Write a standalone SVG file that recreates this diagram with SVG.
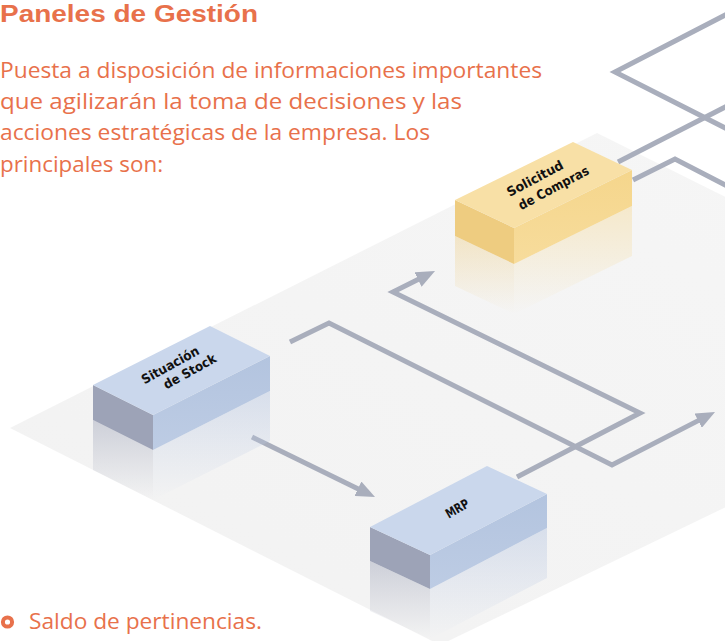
<svg xmlns="http://www.w3.org/2000/svg" width="725" height="641" viewBox="0 0 725 641">
  <defs>
    <style>
      .txt { font-family: "Open Sans", "Liberation Sans", sans-serif; fill: #E8714B; }
      .title { font-family: "Liberation Sans", "Open Sans", sans-serif; font-weight: bold; font-size: 23px; }
      .body { font-size: 22.5px; }
      .conn { fill: none; stroke: #A9AEBC; stroke-width: 5; stroke-linejoin: miter; }
      .lbl { font-family: "Liberation Sans Narrow", "DejaVu Sans Condensed", "Liberation Sans", sans-serif; font-weight: bold; font-size: 13px; fill: #111; text-anchor: middle; }
      .btop { fill: #CAD7EC; }
      .bleft { fill: #9DA3B7; }
      .bright { fill: url(#gBlueRight); }
      .ytop { fill: #F8E0A6; }
      .yleft { fill: #EECC80; }
      .yright { fill: url(#gYelRight); }
    </style>
    <linearGradient id="gPlane" x1="0" y1="1" x2="1" y2="0">
      <stop offset="0" stop-color="#F2F2F2"/>
      <stop offset="1" stop-color="#F6F6F6"/>
    </linearGradient>
    <linearGradient id="gBlueRight" x1="0" y1="0" x2="0" y2="1">
      <stop offset="0" stop-color="#B3C4DF"/>
      <stop offset="1" stop-color="#BDCCE4"/>
    </linearGradient>
    <linearGradient id="gYelRight" x1="0" y1="0" x2="0" y2="1">
      <stop offset="0" stop-color="#F5D68C"/>
      <stop offset="1" stop-color="#F7DC9C"/>
    </linearGradient>
    <linearGradient id="gReflBlueL" x1="0" y1="0" x2="0" y2="1">
      <stop offset="0" stop-color="#A7ACBE" stop-opacity="0.5"/>
      <stop offset="1" stop-color="#A7ACBE" stop-opacity="0"/>
    </linearGradient>
    <linearGradient id="gReflBlueR" x1="0" y1="0" x2="0" y2="1">
      <stop offset="0" stop-color="#BCCAE3" stop-opacity="0.5"/>
      <stop offset="1" stop-color="#BCCAE3" stop-opacity="0"/>
    </linearGradient>
    <linearGradient id="gReflYelL" x1="0" y1="0" x2="0" y2="1">
      <stop offset="0" stop-color="#EECC80" stop-opacity="0.4"/>
      <stop offset="1" stop-color="#EECC80" stop-opacity="0"/>
    </linearGradient>
    <linearGradient id="gReflYelR" x1="0" y1="0" x2="0" y2="1">
      <stop offset="0" stop-color="#F5D68C" stop-opacity="0.4"/>
      <stop offset="1" stop-color="#F5D68C" stop-opacity="0"/>
    </linearGradient>
    <marker id="arrow" markerUnits="userSpaceOnUse" markerWidth="20" markerHeight="16" refX="5" refY="8" orient="auto">
      <path d="M0,0 L19,8 L0,16 z" fill="#A9AEBC"/>
    </marker>
  </defs>

  <rect width="725" height="641" fill="#FFFFFF"/>

  <!-- background plane -->
  <polygon points="10,428 597,133 900,284 900,423 440,645" fill="url(#gPlane)"/>

  <!-- texts -->
  <g id="heading">
    <text class="txt title" x="0" y="22" textLength="258" lengthAdjust="spacingAndGlyphs">Paneles de Gestión</text>
  </g>
  <g id="intro">
    <text class="txt body" x="0" y="78" textLength="542" lengthAdjust="spacingAndGlyphs">Puesta a disposición de informaciones importantes</text>
    <text class="txt body" x="0" y="109" textLength="462" lengthAdjust="spacingAndGlyphs">que agilizarán la toma de decisiones y las</text>
    <text class="txt body" x="0" y="140" textLength="430" lengthAdjust="spacingAndGlyphs">acciones estratégicas de la empresa. Los</text>
    <text class="txt body" x="0" y="172" textLength="163" lengthAdjust="spacingAndGlyphs">principales son:</text>
  </g>
  <g id="bullet">
    <circle cx="7.5" cy="622" r="4.6" fill="none" stroke="#E8714B" stroke-width="4"/>
    <text class="txt body" x="29" y="629" textLength="233" lengthAdjust="spacingAndGlyphs">Saldo de pertinencias.</text>
  </g>

  <!-- connectors -->
  <g id="connectors">
    <path class="conn" d="M252,437 L362.4,490.9" marker-end="url(#arrow)"/>
    <path class="conn" d="M290,342 L329,323 L612,465 L702.6,418.4" marker-end="url(#arrow)"/>
    <path class="conn" d="M517,477 L640,413 L393,292 L422.5,277.3" marker-end="url(#arrow)"/>
    <path class="conn" d="M618,162 L735,102"/>
    <path class="conn" d="M633,180 L675,159 L735,190"/>
    <path class="conn" d="M735,10 L615,72 L735,133"/>
  </g>

  <!-- Situación de Stock -->
  <g id="node-stock">
    <polygon points="93,420 153,450 153,500 93,470" fill="url(#gReflBlueL)"/>
    <polygon points="153,450 270,391 270,441 153,500" fill="url(#gReflBlueR)"/>
    <polygon class="bleft" points="93,385 153,415 153,450 93,420"/>
    <polygon class="bright" points="153,415 270,356 270,391 153,450"/>
    <polygon class="btop" points="93,385 210,326 270,356 153,415"/>
    <g transform="translate(181,370) rotate(-29)">
      <text class="lbl" x="-7" y="-5" textLength="64" lengthAdjust="spacingAndGlyphs">Situación</text>
      <text class="lbl" x="7" y="10" textLength="58" lengthAdjust="spacingAndGlyphs">de Stock</text>
    </g>
  </g>

  <!-- MRP -->
  <g id="node-mrp">
    <polygon points="370,561 430,589 430,639 370,611" fill="url(#gReflBlueL)"/>
    <polygon points="430,589 547,528 547,578 430,639" fill="url(#gReflBlueR)"/>
    <polygon class="bleft" points="370,527 430,555 430,589 370,561"/>
    <polygon class="bright" points="430,555 547,494 547,528 430,589"/>
    <polygon class="btop" points="370,527 487,466 547,494 430,555"/>
    <g transform="translate(458,510) rotate(-30)">
      <text class="lbl" x="0" y="3" textLength="25" lengthAdjust="spacingAndGlyphs">MRP</text>
    </g>
  </g>

  <!-- Solicitud de Compras -->
  <g id="node-solicitud">
    <polygon points="455,236 514,264 514,314 455,286" fill="url(#gReflYelL)"/>
    <polygon points="514,264 632,206 632,256 514,314" fill="url(#gReflYelR)"/>
    <polygon class="yleft" points="455,200 514,228 514,264 455,236"/>
    <polygon class="yright" points="514,228 632,170 632,206 514,264"/>
    <polygon class="ytop" points="455,200 573,142 632,170 514,228"/>
    <g transform="translate(543,185) rotate(-28)">
      <text class="lbl" x="-4" y="-5" textLength="62" lengthAdjust="spacingAndGlyphs">Solicitud</text>
      <text class="lbl" x="8" y="12" textLength="78" lengthAdjust="spacingAndGlyphs">de Compras</text>
    </g>
  </g>
</svg>
